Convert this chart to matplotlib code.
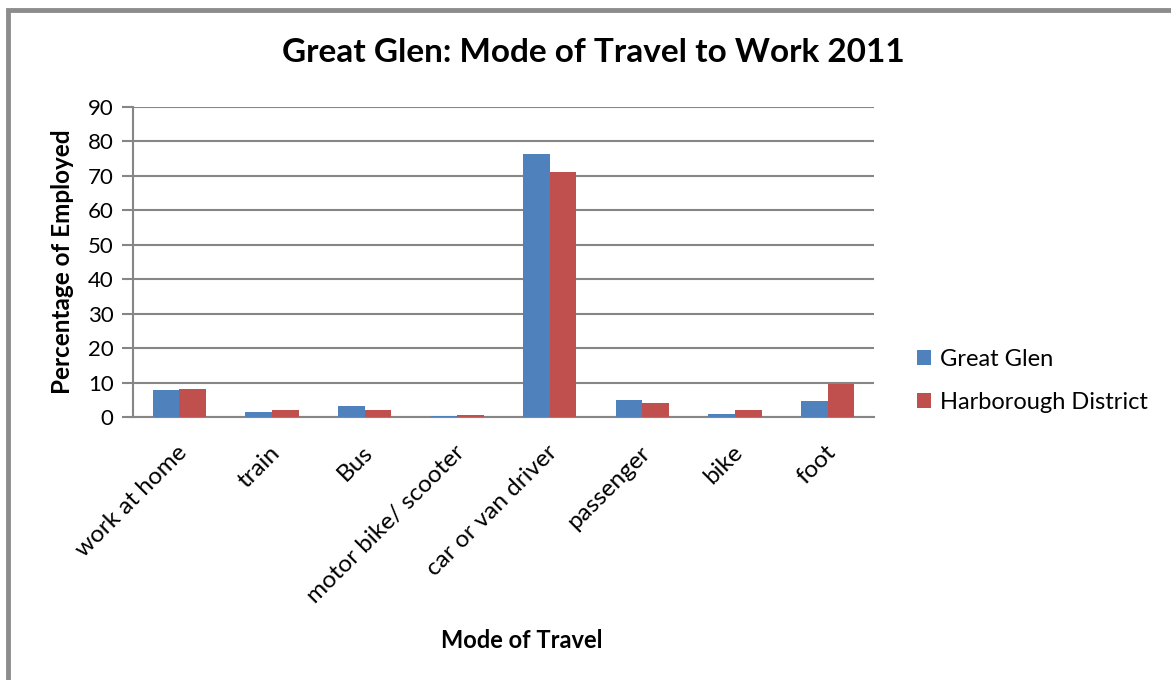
import matplotlib
matplotlib.use("Agg")
import matplotlib.pyplot as plt
import matplotlib.transforms as mtransforms
import numpy as np
from matplotlib.patches import Rectangle

categories = ["work at home", "train", "Bus", "motor bike/ scooter",
              "car or van driver", "passenger", "bike", "foot"]
great_glen = [7.8, 1.5, 3.1, 0.3, 76.3, 4.9, 1.0, 4.6]
harborough = [8.0, 2.0, 2.0, 0.6, 71.1, 4.2, 2.0, 9.7]
yticks = [0, 10, 20, 30, 40, 50, 60, 70, 80, 90]

plt.rcParams['font.family'] = ['Lato', 'DejaVu Sans']

W, H = 1171, 680
fig = plt.figure(figsize=(W / 100, H / 100), dpi=100)
fig.patch.set_facecolor("white")

# outer frame
fig.add_artist(Rectangle((8 / W, -0.05), 1.2, 1 - 10 / H + 0.05, transform=fig.transFigure,
                         fill=False, edgecolor="#8c8c8c", linewidth=3.5))

ax = fig.add_axes([133 / W, 1 - 417 / H, (874 - 133) / W, (417 - 107) / H])
x = np.arange(len(categories))
bw = 0.288
ax.bar(x - bw / 2, great_glen, bw, color="#4F81BD", label="Great Glen", zorder=3)
ax.bar(x + bw / 2, harborough, bw, color="#C0504D", label="Harborough District", zorder=3)

ax.set_xlim(-0.5, len(categories) - 0.5)
ax.set_ylim(0, 90)
ax.set_yticks(yticks)
ax.set_yticklabels([str(v) for v in yticks], fontsize=16)
ax.yaxis.grid(True, color="#868686", linewidth=1.5, zorder=0)
ax.set_axisbelow(True)
for s in ["top", "right"]:
    ax.spines[s].set_visible(False)
ax.spines["left"].set_color("#868686")
ax.spines["left"].set_linewidth(1.5)
ax.spines["bottom"].set_color("#868686")
ax.spines["bottom"].set_linewidth(1.5)
ax.tick_params(axis="y", length=8, width=1.5, color="#868686", pad=6)
ax.set_xticks(x)
ax.set_xticklabels(categories, rotation=45, ha="right", rotation_mode="anchor", fontsize=17.5)
ax.tick_params(axis="x", length=0, pad=10)
offset = mtransforms.ScaledTranslation(-3 / 100, -11 / 100, fig.dpi_scale_trans)
for lab in ax.get_xticklabels():
    lab.set_transform(lab.get_transform() + offset)

ax.set_ylabel("Percentage of Employed", fontsize=17.5, fontweight="bold", labelpad=10)
fig.text(522 / W, 1 - 641 / H, "Mode of Travel", fontsize=17, fontweight="bold",
         ha="center", va="center")
fig.text(593 / W, 1 - 52 / H, "Great Glen: Mode of Travel to Work 2011", fontsize=24,
         fontweight="bold", ha="center", va="center")

leg = fig.legend(loc="center left", bbox_to_anchor=(896 / W, 1 - 381 / H), frameon=False,
                 fontsize=17, handlelength=0.6, handleheight=0.6, labelspacing=0.95,
                 handletextpad=0.35)

fig.savefig("out.png", dpi=100)
